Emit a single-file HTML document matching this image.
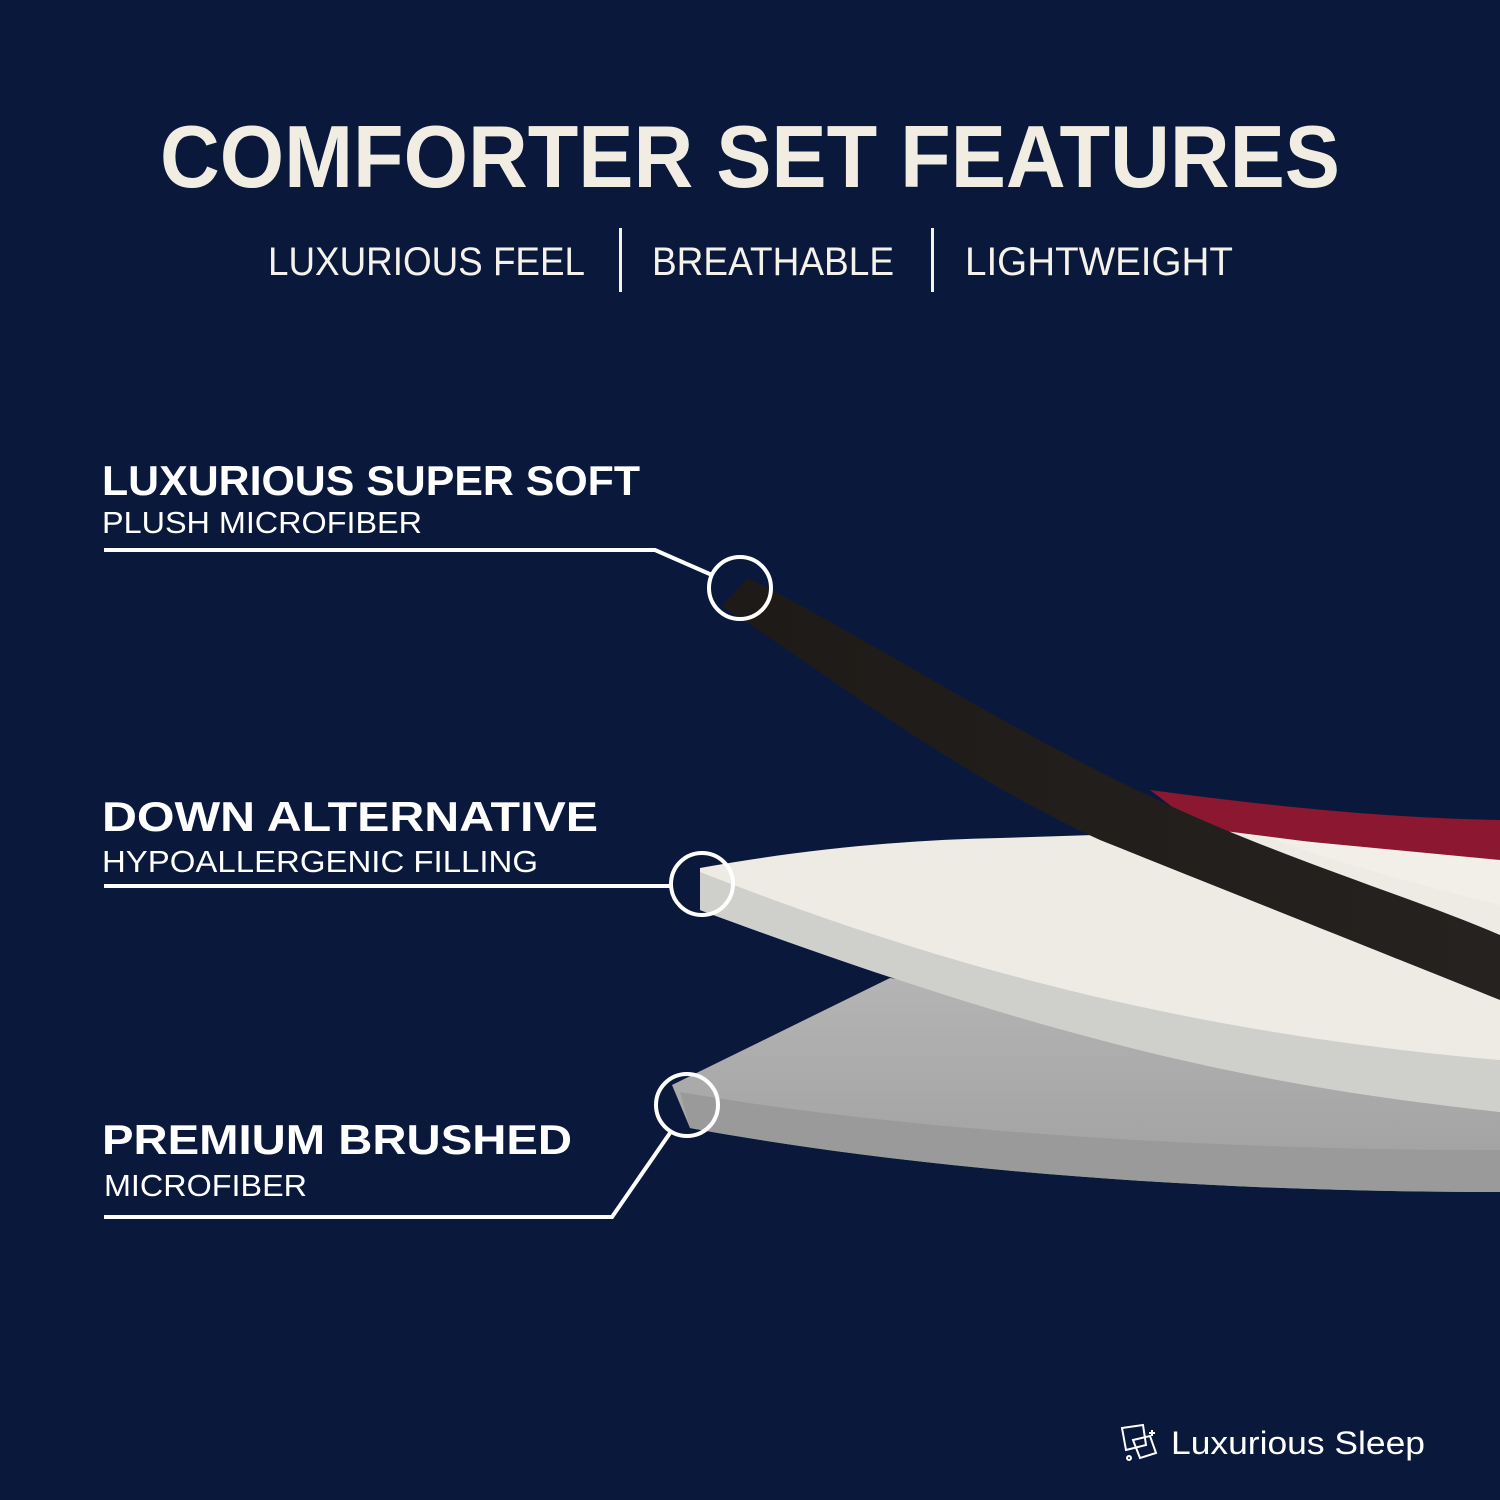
<!DOCTYPE html>
<html><head><meta charset="utf-8"><style>
html,body{margin:0;padding:0;background:#0a193b;}
svg{display:block}
text{font-family:"Liberation Sans",sans-serif;}
</style></head><body>
<svg width="1500" height="1500" viewBox="0 0 1500 1500" xmlns="http://www.w3.org/2000/svg">
<defs>
<linearGradient id="g1" x1="0" y1="0" x2="0" y2="1"><stop offset="0" stop-color="#b4b4b4"/><stop offset="1" stop-color="#a0a0a0"/></linearGradient>
<linearGradient id="d1" x1="0" y1="0" x2="1" y2="0"><stop offset="0" stop-color="#1e1a17"/><stop offset="1" stop-color="#262220"/></linearGradient>
</defs>
<rect width="1500" height="1500" fill="#0a193b"/>
<text x="750" y="187" text-anchor="middle" font-size="88" font-weight="bold" fill="#f2ede2" textLength="1180" lengthAdjust="spacingAndGlyphs">COMFORTER SET FEATURES</text>
<g font-size="40" fill="#f5f2ea">
<text x="268" y="275" textLength="317" lengthAdjust="spacingAndGlyphs">LUXURIOUS FEEL</text>
<text x="652" y="275" textLength="242" lengthAdjust="spacingAndGlyphs">BREATHABLE</text>
<text x="965" y="275" textLength="268" lengthAdjust="spacingAndGlyphs">LIGHTWEIGHT</text>
</g>
<rect x="619" y="228" width="3" height="64" fill="#f5f2ea"/>
<rect x="931" y="228" width="3" height="64" fill="#f5f2ea"/>

<!-- bottom gray layer -->
<path d="M672,1085 L890,978 C1100,1010 1300,1040 1500,1060 L1500,1192 C1200,1192 920,1170 690,1128 Z" fill="url(#g1)"/>
<path d="M680,1092 C900,1130 1200,1150 1500,1150 L1500,1192 C1200,1192 920,1170 690,1128 Z" fill="#9a9a9a"/>
<!-- white layer -->
<path d="M700,868 C800,850 900,840 1000,838 L1500,822 L1500,1112 C1250,1080 1050,1040 700,910 Z" fill="#eeebe5"/>
<path d="M700,872 C900,950 1150,1030 1500,1060 L1500,1112 C1250,1085 1050,1040 700,910 Z" fill="#cfcfcc"/>
<!-- red and cream behind dark -->
<path d="M1150,790 C1300,810 1400,818 1500,820 L1500,862 C1400,855 1300,840 1200,828 Z" fill="#8c1730"/>
<path d="M1500,860 L1500,905 C1400,880 1330,860 1270,838 Z" fill="#f1efe8"/>
<!-- dark layer -->
<path d="M722,606 L748,578 C900,655 1050,760 1250,840 C1350,880 1430,905 1500,935 L1500,1000 C1400,960 1250,900 1100,840 C950,770 850,690 722,606 Z" fill="url(#d1)"/>

<!-- circles and leader lines -->
<g fill="none" stroke="#ffffff" stroke-width="4">
<circle cx="740" cy="588" r="31"/>
<circle cx="702" cy="884" r="31"/>
<circle cx="687" cy="1105" r="31"/>
<polyline points="104,550 655,550 712,575"/>
<polyline points="104,886 671,886"/>
<polyline points="104,1217 612,1217 670,1133"/>
</g>

<g fill="#ffffff">
<text x="102" y="495" font-size="42" font-weight="bold" textLength="538" lengthAdjust="spacingAndGlyphs">LUXURIOUS SUPER SOFT</text>
<text x="102" y="533" font-size="31" textLength="320" lengthAdjust="spacingAndGlyphs">PLUSH MICROFIBER</text>
<text x="102" y="831" font-size="42" font-weight="bold" textLength="496" lengthAdjust="spacingAndGlyphs">DOWN ALTERNATIVE</text>
<text x="102" y="872" font-size="31" textLength="436" lengthAdjust="spacingAndGlyphs">HYPOALLERGENIC FILLING</text>
<text x="102" y="1154" font-size="42" font-weight="bold" textLength="470" lengthAdjust="spacingAndGlyphs">PREMIUM BRUSHED</text>
<text x="104" y="1196" font-size="31" textLength="203" lengthAdjust="spacingAndGlyphs">MICROFIBER</text>
<text x="1171" y="1454" font-size="32" textLength="254" lengthAdjust="spacingAndGlyphs">Luxurious Sleep</text>
</g>
<g fill="none" stroke="#ffffff" stroke-width="2">
<path d="M1122,1428 L1143,1425 L1146,1445 L1126,1450 Z"/>
<path d="M1133,1440 L1150,1436 L1156,1453 L1140,1458 Z"/>
<circle cx="1129" cy="1458" r="2"/>
<path d="M1152,1430 l0,6 M1149,1433 l6,0"/>
</g>
</svg>
</body></html>
